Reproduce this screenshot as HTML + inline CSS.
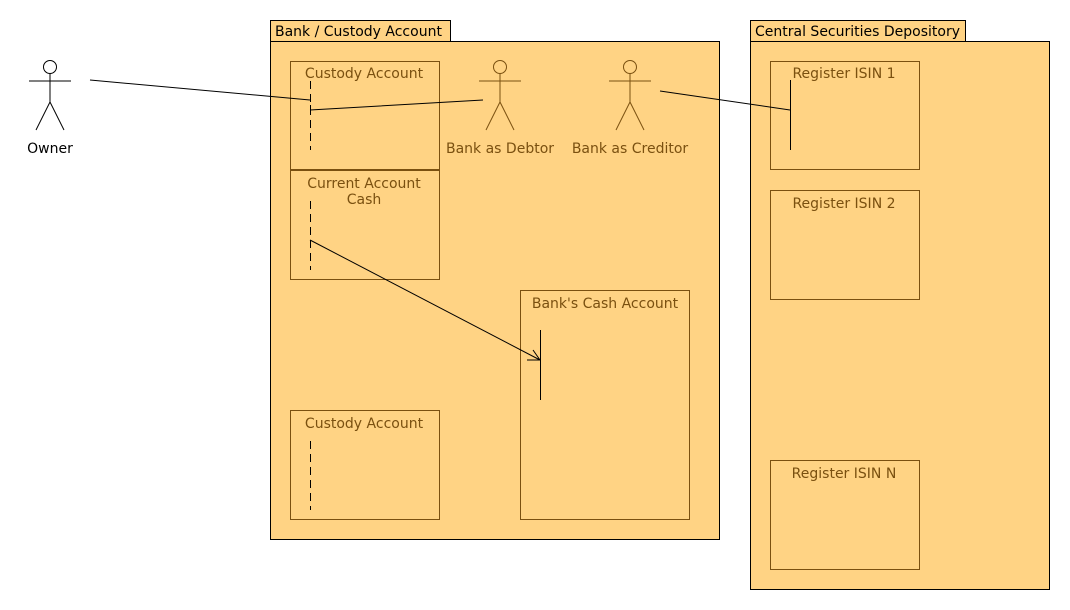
<!DOCTYPE html>
<html><head><style>body{margin:0;background:#fff}svg{display:block}</style></head><body>
<svg width="1070" height="610" xmlns="http://www.w3.org/2000/svg" font-family="DejaVu Sans, sans-serif" font-size="14">
<g stroke="#000" stroke-width="1">
<rect x="270.5" y="20.5" width="180" height="21" fill="#FFD384"/>
<rect x="270.5" y="41.5" width="449" height="498" fill="#FFD384"/>
<rect x="750.5" y="20.5" width="215" height="21" fill="#FFD384"/>
<rect x="750.5" y="41.5" width="299" height="548" fill="#FFD384"/>
</g>
<text x="275" y="36" fill="#000">Bank / Custody Account</text>
<text x="755" y="36" fill="#000">Central Securities Depository</text>
<g stroke="#7A5010" fill="none">
<rect x="290.5" y="61.5" width="149" height="108"/>
<rect x="290.5" y="170.5" width="149" height="109"/>
<rect x="290.5" y="410.5" width="149" height="109"/>
<rect x="520.5" y="290.5" width="169" height="229"/>
<rect x="770.5" y="61.5" width="149" height="108"/>
<rect x="770.5" y="190.5" width="149" height="109"/>
<rect x="770.5" y="460.5" width="149" height="109"/>
</g>
<g fill="#7A5010" text-anchor="middle">
<text x="364" y="78">Custody Account</text>
<text x="364" y="188">Current Account</text>
<text x="364" y="204">Cash</text>
<text x="364" y="428">Custody Account</text>
<text x="605" y="308">Bank's Cash Account</text>
<text x="844" y="78">Register ISIN 1</text>
<text x="844" y="208">Register ISIN 2</text>
<text x="844" y="478">Register ISIN N</text>
<text x="500" y="153">Bank as Debtor</text>
<text x="630" y="153">Bank as Creditor</text>
</g>
<text x="50" y="153" text-anchor="middle" fill="#000">Owner</text>
<g fill="none" stroke="#000">
<circle cx="50" cy="67" r="6.5"/><path d="M29 81H71M50 74V102L36 130M50 102L64 130"/>
</g>
<g fill="none" stroke="#7A5010">
<circle cx="500" cy="67" r="6.5"/><path d="M479 81H521M500 74V102L486 130M500 102L514 130"/>
<circle cx="630" cy="67" r="6.5"/><path d="M609 81H651M630 74V102L616 130M630 102L644 130"/>
</g>
<g stroke="#000" fill="none">
<path d="M310.5 81V150M310.5 201V270M310.5 441V510" stroke-dasharray="8,5"/>
<path d="M90 80L310 100"/>
<path d="M310 110L483 100M310.5 105V115"/>
<path d="M660 91L790 110"/>
<path d="M790.5 80V150"/>
<path d="M540.5 330V400"/>
<path d="M310 240L540 360M527 360H540M533 350L540 360"/>
</g>
</svg>
</body></html>
